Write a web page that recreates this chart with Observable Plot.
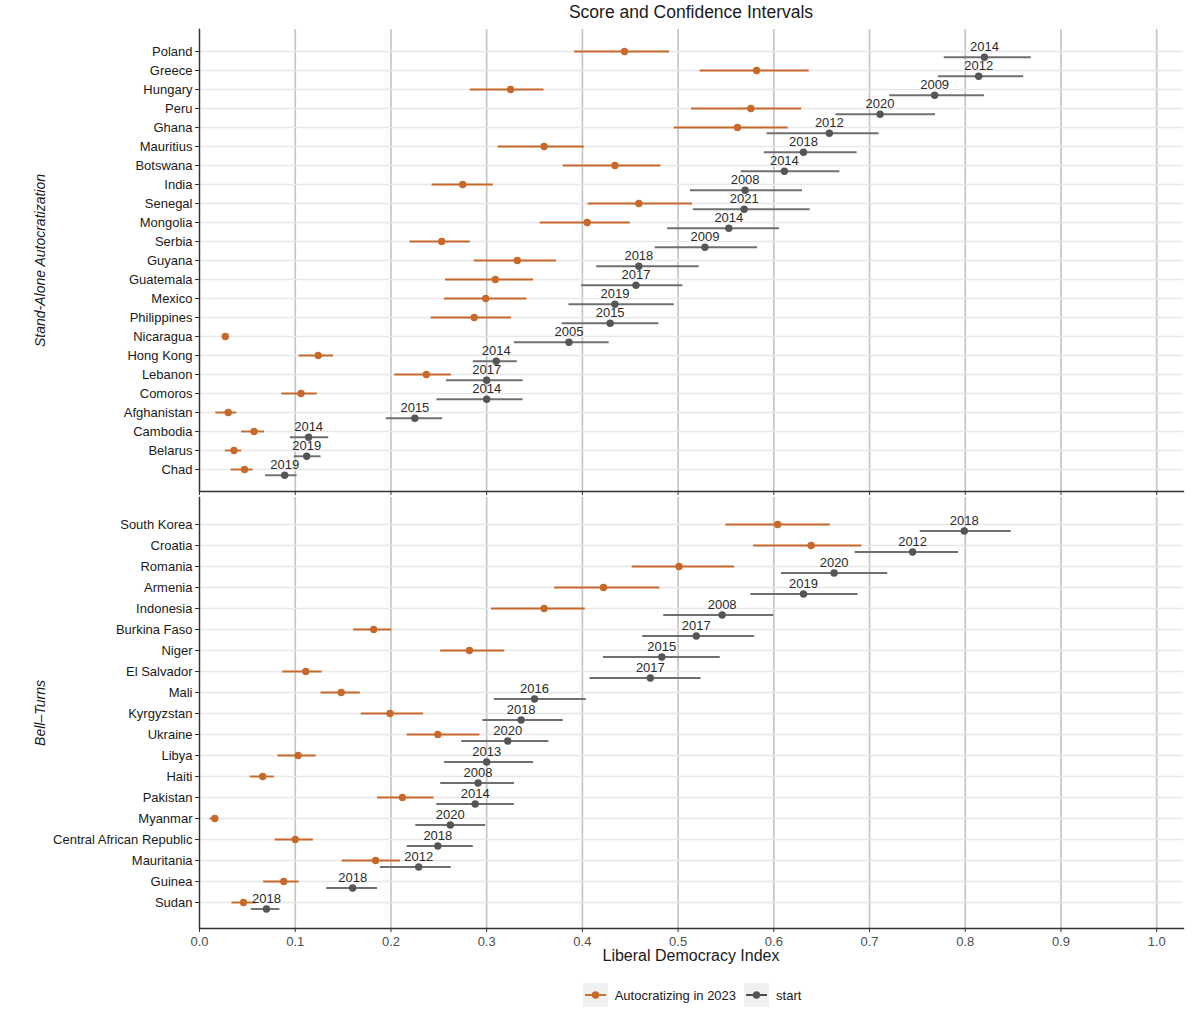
<!DOCTYPE html>
<html>
<head>
<meta charset="utf-8">
<script src="https://cdn.jsdelivr.net/npm/d3@7"></script>
<script src="https://cdn.jsdelivr.net/npm/@observablehq/plot@0.6"></script>
<style>
  html, body { margin: 0; padding: 0; background: #fff; }
  body { width: 1200px; height: 1009px; position: relative; overflow: hidden;
         font-family: "Liberation Sans", Arial, Helvetica, sans-serif; color: #1a1a1a; }
  .abs { position: absolute; }
  #title { top: 2px; left: 199px; width: 984px; text-align: center; font-size: 17.5px; }
  #xlabel { top: 947px; left: 199px; width: 984px; text-align: center; font-size: 16px; }
  #legend { top: 983px; left: 0; width: 1392px; display: flex; justify-content: center; align-items: center; font-size: 13px; color: #1a1a1a; }
  .key { width: 25px; height: 24px; background: #f0f0f0; display: inline-block; margin-right: 7px; }
  .item { display: flex; align-items: center; margin-right: 8px; }
</style>
</head>
<body>
<div id="title" class="abs">Score and Confidence Intervals</div>
<div id="p1" class="abs" style="top:0;left:0"></div>
<div id="p2" class="abs" style="top:491px;left:0"></div>
<div id="xlabel" class="abs">Liberal Democracy Index</div>
<div id="legend" class="abs"></div>
<script>
// ---------- DATA ----------
const panelLabels = ["Stand-Alone Autocratization", "Bell\u2013Turns"];
const seriesLabels = ["Autocratizing in 2023", "start"];
const xTicks = [0, 0.1, 0.2, 0.3, 0.4, 0.5, 0.6, 0.7, 0.8, 0.9, 1.0];

// Panel 1: Stand-Alone Autocratization
const topCountries = ["Poland","Greece","Hungary","Peru","Ghana","Mauritius","Botswana","India","Senegal","Mongolia","Serbia","Guyana","Guatemala","Mexico","Philippines","Nicaragua","Hong Kong","Lebanon","Comoros","Afghanistan","Cambodia","Belarus","Chad"];
const topScore2023 = [0.444,0.582,0.325,0.576,0.562,0.360,0.434,0.275,0.459,0.405,0.253,0.332,0.309,0.299,0.287,0.027,0.124,0.237,0.106,0.030,0.057,0.036,0.047];
const topLow2023   = [0.392,0.523,0.283,0.514,0.496,0.312,0.380,0.243,0.406,0.356,0.220,0.287,0.257,0.256,0.242,0.024,0.104,0.204,0.086,0.017,0.044,0.027,0.033];
const topHigh2023  = [0.491,0.637,0.360,0.629,0.615,0.402,0.482,0.307,0.515,0.450,0.283,0.373,0.349,0.342,0.326,0.031,0.140,0.263,0.123,0.039,0.068,0.044,0.056];
const topStart     = [0.820,0.814,0.768,0.711,0.658,0.631,0.611,0.570,0.569,0.553,0.528,0.459,0.456,0.434,0.429,0.386,0.310,0.300,0.300,0.225,0.114,0.112,0.089];
const topStartLow  = [0.778,0.772,0.721,0.665,0.593,0.590,0.566,0.513,0.516,0.489,0.476,0.415,0.399,0.386,0.379,0.329,0.286,0.258,0.248,0.195,0.095,0.099,0.069];
const topStartHigh = [0.869,0.861,0.820,0.769,0.710,0.687,0.669,0.630,0.638,0.606,0.583,0.522,0.505,0.496,0.480,0.428,0.332,0.338,0.338,0.254,0.135,0.127,0.102];
const topStartYear = [2014,2012,2009,2020,2012,2018,2014,2008,2021,2014,2009,2018,2017,2019,2015,2005,2014,2017,2014,2015,2014,2019,2019];

// Panel 2: Bell-Turns
const botCountries = ["South Korea","Croatia","Romania","Armenia","Indonesia","Burkina Faso","Niger","El Salvador","Mali","Kyrgyzstan","Ukraine","Libya","Haiti","Pakistan","Myanmar","Central African Republic","Mauritania","Guinea","Sudan"];
const botScore2023 = [0.604,0.639,0.501,0.422,0.360,0.182,0.282,0.111,0.148,0.199,0.249,0.103,0.066,0.212,0.016,0.100,0.184,0.088,0.046];
const botLow2023   = [0.550,0.579,0.452,0.371,0.305,0.161,0.252,0.087,0.127,0.169,0.217,0.082,0.053,0.186,0.011,0.079,0.149,0.067,0.034];
const botHigh2023  = [0.659,0.692,0.559,0.481,0.403,0.201,0.319,0.128,0.168,0.234,0.293,0.122,0.078,0.245,0.020,0.119,0.210,0.104,0.059];
const botStart     = [0.799,0.745,0.663,0.631,0.546,0.519,0.483,0.471,0.350,0.336,0.322,0.300,0.291,0.288,0.262,0.249,0.229,0.160,0.070];
const botStartLow  = [0.753,0.685,0.608,0.576,0.485,0.463,0.422,0.408,0.308,0.296,0.274,0.256,0.252,0.248,0.226,0.217,0.189,0.133,0.054];
const botStartHigh = [0.848,0.793,0.719,0.688,0.600,0.580,0.544,0.524,0.404,0.380,0.365,0.349,0.329,0.329,0.299,0.286,0.263,0.186,0.084];
const botStartYear = [2018,2012,2020,2019,2008,2017,2015,2017,2016,2018,2020,2013,2008,2014,2020,2018,2012,2018,2018];

// ---------- STYLE ----------
const ORANGE = "#c8692c";
const GREY_PT = "#555555";
const GREY_LN = "#6f6f6f";
const FONT = "'Liberation Sans', Arial, Helvetica, sans-serif";

function rowsOf(countries, s, lo, hi, st, stLo, stHi, yr) {
  return countries.map((c, i) => ({country: c, score: s[i], lo: lo[i], hi: hi[i], start: st[i], startLo: stLo[i], startHi: stHi[i], year: yr[i]}));
}

function panel({countries, data, label, height, marginTop, marginBottom, showXLabels, pad}) {
  const innerH = height - marginTop - marginBottom;
  const step = innerH / (countries.length - 1 + 2 * pad);
  const off = 0.3 * step;
  return Plot.plot({
    width: 1200,
    height,
    marginLeft: 199,
    marginRight: 17,
    marginTop,
    marginBottom,
    style: {fontFamily: FONT, fontSize: "13px", background: "transparent", overflow: "visible"},
    x: {domain: [0, 1.028]},
    y: {type: "point", domain: countries, padding: pad},
    marks: [
      Plot.gridX(xTicks, {stroke: "#c6c6c6", strokeWidth: 1.7, strokeOpacity: 1}),
      Plot.gridY(countries, {stroke: "#e8e8e8", strokeWidth: 1.7, strokeOpacity: 1}),
      Plot.ruleY(data, {y: "country", x1: "startLo", x2: "startHi", dy: off, stroke: GREY_LN, strokeWidth: 1.9}),
      Plot.dot(data, {y: "country", x: "start", dy: off, r: 3.7, fill: GREY_PT, stroke: "none"}),
      Plot.ruleY(data, {y: "country", x1: "lo", x2: "hi", stroke: ORANGE, strokeWidth: 1.9}),
      Plot.dot(data, {y: "country", x: "score", r: 3.7, fill: ORANGE, stroke: "none"}),
      Plot.text(data, {y: "country", x: "start", text: d => String(d.year), dy: off - 10, fill: "#2b2b2b", fontSize: 13}),
      Plot.frame({anchor: "left", stroke: "#333", strokeWidth: 1.3}),
      Plot.frame({anchor: "bottom", stroke: "#333", strokeWidth: 1.3}),
      Plot.axisY({tickSize: 4, tickPadding: 3, fontSize: 13, fill: "#1a1a1a", stroke: "#333", label: null}),
      Plot.axisX(xTicks, {tickSize: 4, tickPadding: 4, fontSize: 13, fill: "#4d4d4d", stroke: "#333", label: null,
        tickFormat: showXLabels ? d3.format(".1f") : () => ""}),
      Plot.text([label], {frameAnchor: "left", textAnchor: "middle", dx: -159, rotate: -90, fontStyle: "italic", fontSize: 14, fill: "#1a1a1a"})
    ]
  });
}

const topData = rowsOf(topCountries, topScore2023, topLow2023, topHigh2023, topStart, topStartLow, topStartHigh, topStartYear);
const botData = rowsOf(botCountries, botScore2023, botLow2023, botHigh2023, botStart, botStartLow, botStartHigh, botStartYear);

document.getElementById("p1").appendChild(panel({countries: topCountries, data: topData, label: panelLabels[0], height: 497, marginTop: 29, marginBottom: 6, showXLabels: false, pad: 1.0}));
document.getElementById("p2").appendChild(panel({countries: botCountries, data: botData, label: panelLabels[1], height: 489, marginTop: 6, marginBottom: 52, showXLabels: true, pad: 0.97}));

// ---------- LEGEND ----------
const legend = document.getElementById("legend");
[[seriesLabels[0], ORANGE, ORANGE], [seriesLabels[1], GREY_PT, "#444"]].forEach(([name, ptColor, lnColor]) => {
  const item = document.createElement("div");
  item.className = "item";
  item.innerHTML = `<svg class="key" width="25" height="24" viewBox="0 0 25 24"><rect width="25" height="24" fill="#f0f0f0"/><line x1="2" x2="23" y1="12" y2="12" stroke="${lnColor}" stroke-width="1.9"/><circle cx="12.5" cy="12" r="3.7" fill="${ptColor}"/></svg><span>${name}</span>`;
  legend.appendChild(item);
});
</script>
</body>
</html>
